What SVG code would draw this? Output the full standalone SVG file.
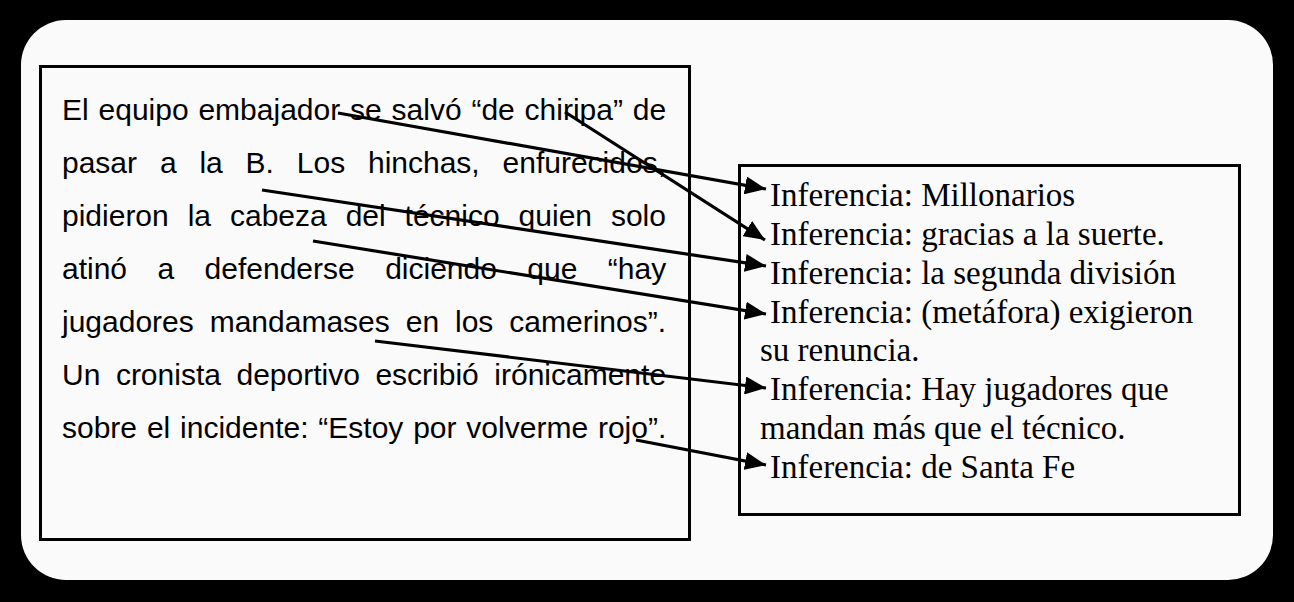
<svg xmlns="http://www.w3.org/2000/svg" width="1294" height="602" viewBox="0 0 1294 602">
<style>
.src{font-family:"Liberation Sans",Arial,sans-serif;font-size:30px;fill:#000}
.inf{font-family:"Liberation Serif","Times New Roman",serif;font-size:33px;fill:#000}
.box{fill:none;stroke:#000;stroke-width:3}
.arr{stroke:#000;stroke-width:3.2;fill:none;marker-end:url(#ah)}
</style>
<defs>
<marker id="ah" markerUnits="userSpaceOnUse" markerWidth="22" markerHeight="18" refX="21" refY="9" orient="auto" viewBox="0 0 22 18">
<path d="M0,0 L21,9 L0,18 z" fill="#000"/>
</marker>
</defs>
<rect x="0" y="0" width="1294" height="602" fill="#000"/>
<rect x="21" y="20" width="1252" height="560" rx="45" ry="45" fill="#fafafa"/>
<g id="texto">
<rect class="box" x="40.5" y="66.5" width="649" height="473"/>
<text class="src" x="62" y="120" word-spacing="1.5">El equipo embajador se salvó “de chiripa” de</text>
<text class="src" x="62" y="173" word-spacing="14.5">pasar a la B. Los hinchas, enfurecidos,</text>
<text class="src" x="62" y="226" word-spacing="10.6">pidieron la cabeza del técnico quien solo</text>
<text class="src" x="62" y="279" word-spacing="22.1">atinó a defenderse diciendo que “hay</text>
<text class="src" x="62" y="332" word-spacing="7.6">jugadores mandamases en los camerinos”.</text>
<text class="src" x="62" y="385" word-spacing="7.2">Un cronista deportivo escribió irónicamente</text>
<text class="src" x="62" y="438" word-spacing="1.5">sobre el incidente: “Estoy por volverme rojo”.</text>
</g>
<g id="inferencias">
<rect class="box" x="739.5" y="165.5" width="500" height="349"/>
<text class="inf" x="770" y="206">Inferencia: Millonarios</text>
<text class="inf" x="770" y="245">Inferencia: gracias a la suerte.</text>
<text class="inf" x="770" y="284">Inferencia: la segunda división</text>
<text class="inf" x="770" y="323">Inferencia: (metáfora) exigieron</text>
<text class="inf" x="760" y="361">su renuncia.</text>
<text class="inf" x="770" y="400">Inferencia: Hay jugadores que</text>
<text class="inf" x="760" y="439">mandan más que el técnico.</text>
<text class="inf" x="770" y="478">Inferencia: de Santa Fe</text>
</g>
<g id="conectores">
<line class="arr" x1="338" y1="113" x2="766" y2="189"/>
<line class="arr" x1="565" y1="112" x2="765" y2="240"/>
<line class="arr" x1="262" y1="190" x2="766" y2="266"/>
<line class="arr" x1="313" y1="241" x2="766" y2="314"/>
<line class="arr" x1="375" y1="341" x2="766" y2="388"/>
<line class="arr" x1="636" y1="440" x2="766" y2="465"/>
</g>
</svg>
